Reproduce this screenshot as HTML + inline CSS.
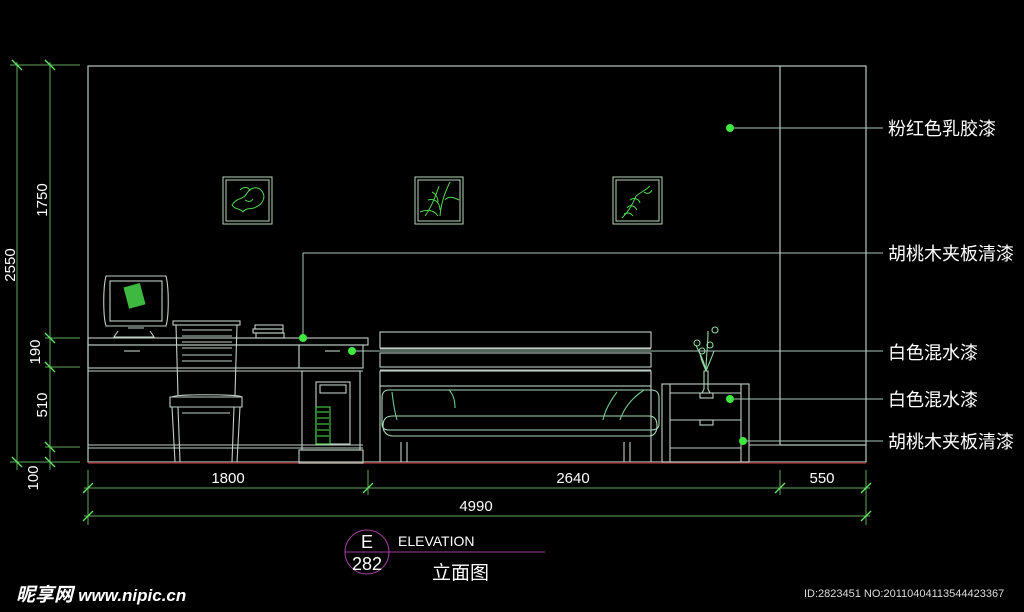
<!DOCTYPE html>
<html><head><meta charset="utf-8"><style>
html,body{margin:0;padding:0;background:#000;width:1024px;height:612px;overflow:hidden}
svg{display:block}
text{font-family:"Liberation Sans","Noto Sans CJK SC",sans-serif}
</style></head><body>
<svg width="1024" height="612" viewBox="0 0 1024 612" xmlns="http://www.w3.org/2000/svg">
<rect width="1024" height="612" fill="#000"/>
<g fill="none" stroke="#b8c8c0" stroke-width="1.2">
<rect x="88" y="66" width="778" height="396"/>
<line x1="780" y1="66" x2="780" y2="445"/>
<line x1="780" y1="445" x2="866" y2="445"/>
</g>
<line x1="88" y1="463" x2="866" y2="463" stroke="#8a2a2a" stroke-width="1.5"/>
<g stroke="#5fa85f" stroke-width="1">
<line x1="17" y1="62" x2="17" y2="470"/>
<line x1="50" y1="62" x2="50" y2="470"/>
<line x1="10" y1="65" x2="80" y2="65"/>
<line x1="45" y1="338" x2="80" y2="338"/>
<line x1="45" y1="367" x2="80" y2="367"/>
<line x1="45" y1="447" x2="80" y2="447"/>
<line x1="10" y1="462" x2="80" y2="462"/>
</g>
<g stroke="#5fe85f" stroke-width="1.3">
<line x1="12" y1="60" x2="22" y2="70"/><line x1="45" y1="60" x2="55" y2="70"/>
<line x1="45" y1="333" x2="55" y2="343"/><line x1="45" y1="362" x2="55" y2="372"/>
<line x1="45" y1="442" x2="55" y2="452"/><line x1="12" y1="457" x2="22" y2="467"/><line x1="45" y1="457" x2="55" y2="467"/>
</g>
<g fill="#fff" font-size="15">
<text transform="translate(15,265) rotate(-90)" text-anchor="middle">2550</text>
<text transform="translate(47,200) rotate(-90)" text-anchor="middle">1750</text>
<text transform="translate(40,352) rotate(-90)" text-anchor="middle">190</text>
<text transform="translate(47,405) rotate(-90)" text-anchor="middle">510</text>
<text transform="translate(38,478) rotate(-90)" text-anchor="middle">100</text>
</g>
<g stroke="#5fa85f" stroke-width="1">
<line x1="84" y1="488" x2="870" y2="488"/>
<line x1="84" y1="516" x2="870" y2="516"/>
<line x1="88" y1="470" x2="88" y2="525"/>
<line x1="368" y1="470" x2="368" y2="495"/>
<line x1="780" y1="470" x2="780" y2="495"/>
<line x1="866" y1="470" x2="866" y2="525"/>
</g>
<g stroke="#5fe85f" stroke-width="1.3">
<line x1="83" y1="493" x2="93" y2="483"/><line x1="363" y1="493" x2="373" y2="483"/>
<line x1="775" y1="493" x2="785" y2="483"/><line x1="861" y1="493" x2="871" y2="483"/>
<line x1="83" y1="521" x2="93" y2="511"/><line x1="861" y1="521" x2="871" y2="511"/>
</g>
<g fill="#fff" font-size="15" text-anchor="middle">
<text x="228" y="483">1800</text><text x="573" y="483">2640</text><text x="822" y="483">550</text>
<text x="476" y="511">4990</text>
</g>
<g fill="none" stroke="#b8d8b8" stroke-width="1">
<rect x="223" y="177" width="49" height="47"/><rect x="226" y="180" width="43" height="41"/>
<rect x="415" y="177" width="48" height="47"/><rect x="418" y="180" width="42" height="41"/>
<rect x="613" y="177" width="49" height="47"/><rect x="616" y="180" width="43" height="41"/>
</g>
<g fill="none" stroke="#4fd84f" stroke-width="1">
<path d="M232 205c5-8 12-5 15-12c4-6 12-8 16 0c3 6-2 12-7 14c-4 3-10 0-13 5c-3-4-8-2-11-7zM240 190c4-4 9-3 10 1M245 200c3 2 6 2 8-1"/>
<path d="M425 216c6-8 10-18 14-30M440 216c1-10 3-20 10-34M428 200c6-2 12 2 12 10M445 200c4-5 10-2 14 0M432 192c4 2 6 6 6 10M420 212c8-3 14-2 18 4"/>
<path d="M622 218c6-6 10-12 14-22M627 208c3-4 8-2 10 2M630 200c4-3 9-1 10 3M636 196c5-4 10-6 14-10M644 192c3 2 6 2 8-2M624 214c4-2 7-1 9 2"/>
</g>
<g fill="none" stroke="#c0d0c8" stroke-width="1.1">
<rect x="88" y="338" width="280" height="7"/>
<rect x="88" y="345" width="211" height="23"/>
<rect x="299" y="345" width="64" height="23"/>
<line x1="88" y1="371" x2="363" y2="371"/>
<line x1="88" y1="445" x2="363" y2="445"/>
<line x1="88" y1="448" x2="363" y2="448"/>
<rect x="299" y="450" width="64" height="13"/>
<rect x="302" y="371" width="58" height="79"/>
<line x1="124" y1="351" x2="140" y2="351"/><line x1="325" y1="351" x2="340" y2="351"/>
<path d="M106 276h60c3 12 3 40 0 50h-60c-3-10-3-38 0-50z"/>
<rect x="110" y="281" width="52" height="40"/>
<path d="M118 331l-4 6h40l-4-6M128 328h16"/>
<rect x="255" y="325" width="28" height="4"/><rect x="253" y="329" width="30" height="4"/><rect x="256" y="333" width="28" height="5"/>
<rect x="173" y="321" width="67" height="4"/>
<path d="M176 325l2 70M237 325l-2 70M182 330h50M182 336h50M182 342h50M182 348h50M182 355h50M182 361h50"/>
<path d="M170 397h72v10h-72zM172 397c0-3 68-3 70 0"/>
<path d="M172 407l3 55M178 407l2 55M240 407l-3 55M234 407l-2 55M182 413h48"/>
<rect x="316" y="382" width="34" height="62"/>
<rect x="320" y="385" width="26" height="8"/>
</g>
<rect x="126" y="285" width="17" height="22" fill="#3fb83f" transform="rotate(-15 134 296)"/>
<rect x="316" y="407" width="14" height="37" fill="none" stroke="#4fe84f"/>
<g stroke="#4fe84f"><line x1="317" y1="412" x2="329" y2="412"/><line x1="317" y1="418" x2="329" y2="418"/><line x1="317" y1="424" x2="329" y2="424"/><line x1="317" y1="430" x2="329" y2="430"/><line x1="317" y1="436" x2="329" y2="436"/></g>
<g fill="none" stroke="#c0d0c8" stroke-width="1.1">
<rect x="380" y="332" width="271" height="16"/>
<rect x="380" y="353" width="271" height="14"/>
<rect x="380" y="371" width="271" height="15"/>
<line x1="380" y1="349" x2="651" y2="349"/><line x1="380" y1="370" x2="651" y2="370"/>
<line x1="380" y1="386" x2="380" y2="462"/><line x1="651" y1="386" x2="651" y2="462"/>
<path d="M389 390h262c6 0 8 3 8 8v26c0 4-3 6-8 6h-262c-5 0-7-2-7-6v-26c0-5 2-8 7-8z" stroke="#a8d8b8"/>
<path d="M383 426c0-8 4-10 10-10h256c6 0 8 4 8 10c0 6-3 10-8 10h-256c-6 0-10-4-10-10z" stroke="#a8d8b8"/>
<path d="M401 442v20M407 442v20M624 442v20M630 442v20"/>
<path d="M397 420c-3-10-4-20-5-28M449 390c4 4 6 10 6 18M620 420c4-12 12-22 24-30M603 420c2-10 8-20 14-28" stroke="#6fc88f"/>
</g>
<g fill="none" stroke="#c0d0c8" stroke-width="1.1">
<rect x="662" y="384" width="87" height="78"/>
<path d="M670 384v78M741 384v78M670 393h71M670 420h71M670 448h71"/>
<rect x="700" y="393" width="13" height="5"/><rect x="700" y="420" width="13" height="5"/>
<path d="M702 393l2-4v-18h4v18l2 4" stroke="#a8d8b8"/>
<path d="M706 371c-2-12-8-20-10-26M706 371c0-14 2-24 2-40M706 371c4-10 6-14 8-20M706 371c-3-8-5-10-6-18" stroke="#8fd89f"/>
<circle cx="697" cy="343" r="3" stroke="#8fd89f"/><circle cx="710" cy="345" r="3" stroke="#8fd89f"/><circle cx="715" cy="330" r="3" stroke="#8fd89f"/><circle cx="702" cy="351" r="3" stroke="#8fd89f"/>
</g>
<line x1="749" y1="445" x2="780" y2="445" stroke="#c0d0c8"/>
<g stroke="#a8c8b8" stroke-width="1">
<line x1="730" y1="128" x2="883" y2="128"/>
<line x1="303" y1="253" x2="883" y2="253"/>
<line x1="303" y1="253" x2="303" y2="338"/>
<line x1="352" y1="351" x2="883" y2="351"/>
<line x1="730" y1="399" x2="883" y2="399"/>
<line x1="743" y1="441" x2="883" y2="441"/>
</g>
<g fill="#3fe83f">
<circle cx="730" cy="128" r="4"/><circle cx="303" cy="338" r="4"/><circle cx="352" cy="351" r="4"/>
<circle cx="730" cy="399" r="4"/><circle cx="743" cy="441" r="4"/>
</g>
<g fill="#fff" font-size="18">
<text x="888" y="135">粉红色乳胶漆</text>
<text x="888" y="260">胡桃木夹板清漆</text>
<text x="888" y="359">白色混水漆</text>
<text x="888" y="406">白色混水漆</text>
<text x="888" y="448">胡桃木夹板清漆</text>
</g>
<circle cx="367" cy="552" r="22" fill="none" stroke="#a040a0" stroke-width="1"/>
<line x1="345" y1="552" x2="545" y2="552" stroke="#a040a0"/>
<g fill="#fff">
<text x="367" y="548" font-size="18" text-anchor="middle">E</text>
<text x="367" y="570" font-size="18" text-anchor="middle">282</text>
<text x="398" y="546" font-size="14">ELEVATION</text>
<text x="432" y="579" font-size="19">立面图</text>
</g>
<text x="16" y="601" fill="#fff" font-size="19" font-weight="bold" font-style="italic">昵享网 <tspan font-size="17">www.nipic.cn</tspan></text>
<text x="804" y="597" fill="#ddd" font-size="11">ID:2823451 NO:20110404113544423367</text>
</svg>
</body></html>
